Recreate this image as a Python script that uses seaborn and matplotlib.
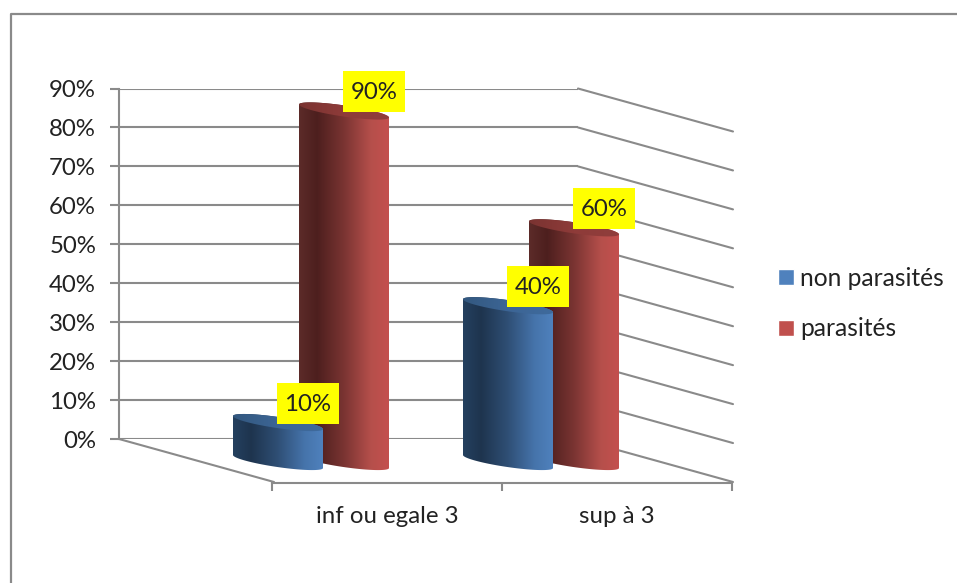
import numpy as np
import pandas as pd
import seaborn as sns
import matplotlib
matplotlib.use("Agg")
import matplotlib.pyplot as plt
from matplotlib.colors import LinearSegmentedColormap
from matplotlib.lines import Line2D
from matplotlib.patches import PathPatch, Rectangle
from matplotlib.path import Path
from matplotlib.transforms import ScaledTranslation

categories = ["inf ou egale 3", "sup à 3"]
groups = ["non parasités", "parasités"]
non_parasites = [10, 40]
parasites = [90, 60]
y_ticks = list(range(0, 100, 10))
y_tick_labels = [f"{v}%" for v in y_ticks]

W, H = 957, 583
GREY = "#8a8a8a"
TEXT = "#222222"
FONT_PT = 17.3
LEGEND_PT = 17.7
LINE = 1.5

sns.set_theme(style="white")
plt.rcParams["font.family"] = ["Lato", "DejaVu Sans"]

fig = plt.figure(figsize=(W / 100, H / 100), dpi=100, facecolor="white")


def axes_px(left, right, top, bottom):
    """Axes placed by pixel edges measured from the top-left corner."""
    return fig.add_axes([left / W, 1 - bottom / H, (right - left) / W, (bottom - top) / H])


# Outer chart frame: only the top and left edges fall inside the canvas.
fig.add_artist(Line2D([11 / W, 11 / W, 1], [0, 1 - 14 / H, 1 - 14 / H], color=GREY, lw=1.6))

# Back wall, carrying the percentage scale.
wall = axes_px(119, 578, 88.5, 439)
wall.set_xlim(0, 1)
wall.set_ylim(0, 90)
wall.set_xticks([])
wall.set_yticks(y_ticks, y_tick_labels)
wall.tick_params(axis="y", length=6.5, width=LINE, color=GREY, labelsize=FONT_PT,
                 labelcolor=TEXT, pad=10, left=True)
wall.grid(axis="y", color=GREY, lw=LINE)
for name in ("top", "right", "bottom"):
    wall.spines[name].set_visible(False)
wall.spines["left"].set(color=GREY, lw=LINE)

# Side wall and floor receding from the back wall.
DEPTH_X = 155 / 459
DEPTH_Y = 43 / (350.5 / 90)
for v in y_ticks:
    wall.plot([1, 1 + DEPTH_X], [v, v - DEPTH_Y], color=GREY, lw=LINE, clip_on=False)
wall.plot([0, DEPTH_X], [0, -DEPTH_Y], color=GREY, lw=LINE, clip_on=False)

# Front edge of the floor, carrying the category axis.
floor = axes_px(272, 732, 470, 483)
floor.patch.set_alpha(0)
floor.set_xlim(-0.5, 1.5)
floor.set_ylim(0, 1)
floor.set_yticks([])
floor.set_xticks([0, 1], categories)
floor.set_xticks([-0.5, 0.5, 1.5], minor=True)
floor.tick_params(axis="x", which="major", length=0, pad=16.7, labelsize=FONT_PT, labelcolor=TEXT)
floor.tick_params(axis="x", which="minor", length=5.5, width=LINE, color=GREY, bottom=True)
for name in ("top", "left", "right"):
    floor.spines[name].set_visible(False)
floor.spines["bottom"].set(color=GREY, lw=LINE)

# Mid-depth plane on which the cylinders stand.
bars = axes_px(196, 656, 111, 461.5)
bars.patch.set_alpha(0)

df = pd.DataFrame({
    "classe": categories * 2,
    "groupe": [groups[0]] * 2 + [groups[1]] * 2,
    "pct": non_parasites + parasites,
})
sns.barplot(data=df, x="classe", y="pct", hue="groupe", hue_order=groups,
            palette=["#4f81bd", "#c0504d"], saturation=1, width=0.574, gap=0,
            ax=bars, legend=True)
bars.set_xlim(-0.5, 1.5)
bars.set_ylim(0, 90)
bars.axis("off")

sns.move_legend(bars, "center left", bbox_to_anchor=(778 / W, 1 - 303.5 / H),
                bbox_transform=fig.transFigure, title=None, frameon=False, fontsize=LEGEND_PT,
                handlelength=0.64, handleheight=0.64, handletextpad=0.27, labelspacing=1.12,
                labelcolor=TEXT, borderpad=0, borderaxespad=0)
bars.get_legend().set_visible(True)

px_x = 2 / 460  # data units per pixel along x (two categories over 460 px)
px_y = 90 / 350.5  # data units per pixel along y
HALF_W = 45 * px_x
SKEW = 6.5 * px_y
MINOR = 5.6 * px_y

ramps = {
    0: (["#24405f", "#1e344e", "#2f4f75", "#4674ab", "#4f81bd"],
        ["#33587f", "#3c6595", "#3f6a9c"]),
    1: (["#5c2b29", "#4d1f1e", "#7a3432", "#b54f4b", "#c4504e"],
        ["#7a3331", "#8e3b39", "#903e3c"]),
}
stops = [0, 0.2, 0.5, 0.8, 1]


def rim(cx, base, start, stop):
    t = np.linspace(start, stop, 80)
    return np.column_stack([cx + HALF_W * np.cos(t),
                            base - SKEW * np.cos(t) + MINOR * np.sin(t)])


def shaded(verts, cmap, cx, ymin, ymax, z):
    patch = PathPatch(Path(np.vstack([verts, verts[:1]]), closed=True),
                      fc="none", ec="none", transform=bars.transData, zorder=z, clip_on=False)
    bars.add_patch(patch)
    img = bars.imshow(np.linspace(0, 1, 256)[None, :], cmap=cmap, aspect="auto",
                      extent=(cx - HALF_W, cx + HALF_W, ymin, ymax), zorder=z,
                      interpolation="bilinear")
    img.set_clip_box(fig.bbox)
    img.set_clip_path(patch)


for g, container in enumerate(bars.containers):
    side_cmap = LinearSegmentedColormap.from_list(f"side{g}", list(zip(stops, ramps[g][0])))
    cap_cmap = LinearSegmentedColormap.from_list(f"cap{g}", ramps[g][1])
    z = 3 + (1 - g)
    for bar in container:
        cx = bar.get_x() + bar.get_width() / 2
        value = bar.get_height()
        bar.set_visible(False)
        outline = np.vstack([rim(cx, 0, np.pi, 2 * np.pi), rim(cx, value, 0, np.pi)])
        shaded(outline, side_cmap, cx, -4, value + 4, z)
        cap = rim(cx, value, 0, 2 * np.pi)
        shaded(cap, cap_cmap, cx, value - 4, value + 4, z + 0.1)

        # Value tag: a fixed-size yellow box offset from the top of the cylinder.
        anchor = ScaledTranslation(cx, value, bars.transData)
        bars.add_patch(Rectangle((-1, -1), 62, 41, fc="#ffff00", ec="none",
                                 transform=anchor, clip_on=False, zorder=8))
        bars.text(30, 18.5, f"{value:.0f}%", transform=anchor, ha="center", va="center",
                  fontsize=FONT_PT, color=TEXT, zorder=9, clip_on=False)

bars.set_xlim(-0.5, 1.5)
bars.set_ylim(0, 90)

fig.savefig("out.png", dpi=100, facecolor="white")
